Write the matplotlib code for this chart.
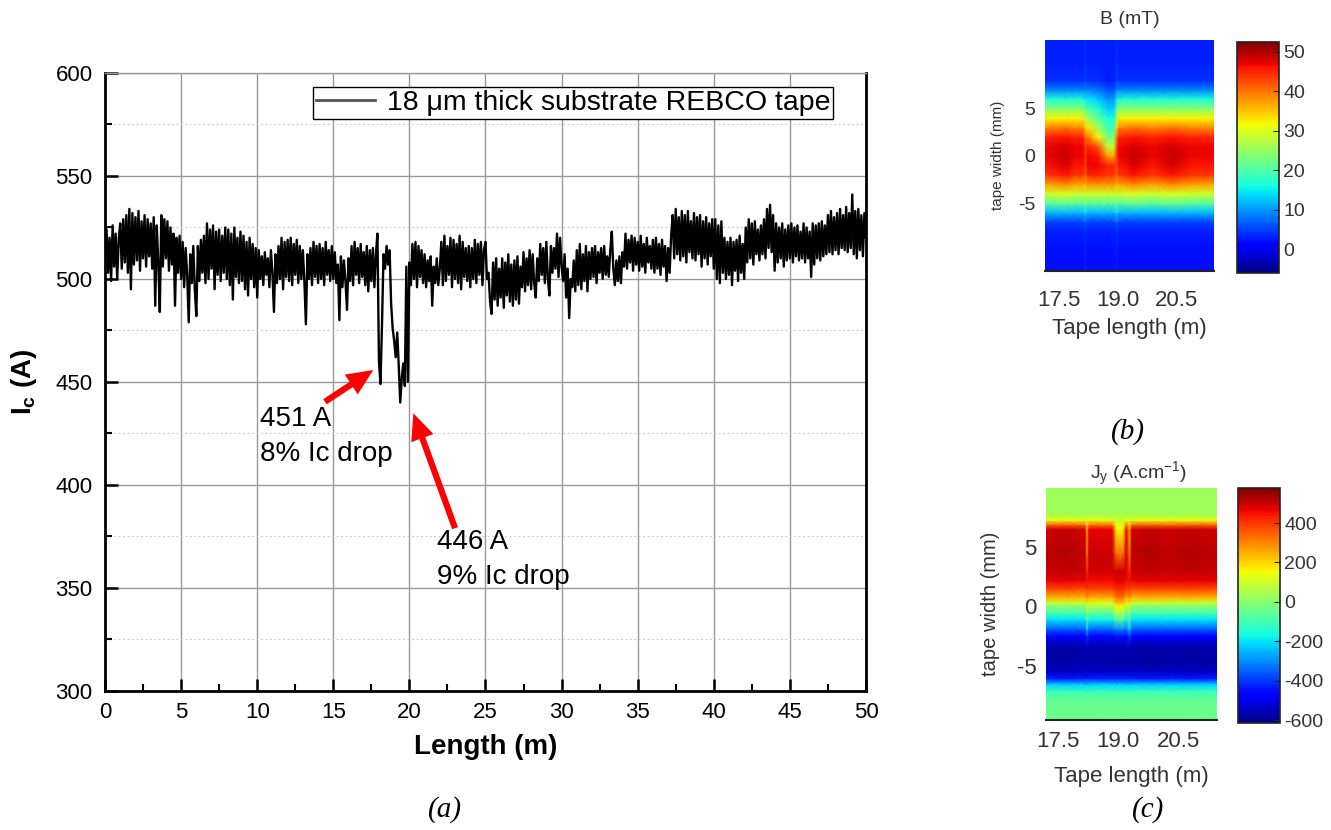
import numpy as np
import matplotlib
matplotlib.use("Agg")
import matplotlib.pyplot as plt
from matplotlib.patches import FancyArrowPatch
from matplotlib.ticker import MultipleLocator

plt.rcParams['font.family'] = ['Liberation Sans', 'DejaVu Sans']
plt.rcParams['mathtext.fontset'] = 'custom'
plt.rcParams['mathtext.rm'] = 'Liberation Sans'
plt.rcParams['mathtext.it'] = 'Liberation Sans:italic'
plt.rcParams['mathtext.bf'] = 'Liberation Sans:bold'
plt.rcParams['axes.unicode_minus'] = False

# ---------------- (a) critical current along the tape ----------------
length_step = 0.1  # m between samples
ic_values = [
    512, 524, 503, 520, 499, 526, 506, 522, 500, 519,
    527, 505, 529, 508, 531, 503, 534, 495, 532, 507,
    530, 509, 533, 504, 528, 510, 531, 506, 529, 511,
    527, 505, 530, 487, 526, 508, 484, 531, 506, 529,
    510, 528, 504, 525, 507, 522, 487, 520, 503, 521,
    500, 518, 496, 515, 502, 479, 512, 498, 516, 495,
    482, 516, 499, 519, 503, 521, 498, 527, 500, 524,
    505, 526, 495, 523, 502, 524, 499, 521, 503, 525,
    500, 524, 497, 522, 490, 525, 501, 520, 498, 523,
    499, 521, 495, 518, 492, 520, 500, 517, 496, 515,
    491, 514, 500, 511, 497, 513, 502, 510, 496, 514,
    503, 484, 512, 498, 516, 500, 520, 495, 518, 501,
    519, 499, 520, 497, 517, 502, 519, 498, 516, 500,
    514, 499, 478, 512, 500, 515, 497, 518, 501, 516,
    498, 517, 500, 515, 497, 518, 502, 514, 499, 516,
    500, 513, 498, 507, 480, 511, 496, 509, 499, 485,
    510, 499, 516, 497, 518, 502, 515, 498, 517, 501,
    513, 497, 516, 494, 514, 499, 515, 496, 512, 522,
    460, 449, 478, 512, 505, 516, 507, 514, 488, 476,
    470, 462, 474, 458, 440, 452, 459, 448, 506, 450,
    508, 497, 517, 500, 518, 496, 516, 501, 514, 498,
    512, 496, 509, 499, 511, 487, 506, 498, 510, 497,
    505, 518, 497, 521, 499, 516, 502, 520, 496, 519,
    500, 517, 498, 521, 495, 518, 501, 515, 499, 516,
    496, 515, 500, 519, 498, 517, 502, 518, 497, 514,
    518, 500, 503, 489, 483, 508, 490, 510, 487, 505,
    491, 510, 486, 508, 492, 512, 489, 507, 487, 509,
    490, 511, 488, 506, 496, 513, 494, 510, 497, 514,
    495, 512, 498, 491, 510, 499, 517, 502, 515, 498,
    518, 500, 492, 516, 503, 515, 505, 522, 501, 520,
    506, 499, 512, 491, 505, 481, 500, 496, 509, 494,
    514, 497, 517, 495, 512, 499, 516, 494, 513, 500,
    515, 501, 516, 498, 513, 503, 515, 500, 516, 502,
    511, 501, 514, 523, 505, 497, 509, 499, 511, 498,
    513, 506, 522, 505, 519, 508, 521, 504, 520, 507,
    518, 504, 521, 506, 517, 503, 520, 508, 516, 505,
    519, 503, 520, 505, 517, 502, 519, 506, 516, 499,
    515, 503, 521, 531, 510, 534, 512, 530, 509, 533,
    511, 531, 508, 533, 513, 528, 510, 532, 509, 530,
    512, 531, 506, 528, 510, 530, 507, 527, 511, 529,
    505, 529, 500, 526, 498, 528, 503, 520, 500, 518,
    502, 520, 497, 518, 504, 519, 499, 521, 503, 517,
    500, 525, 508, 529, 510, 527, 507, 528, 512, 524,
    509, 526, 512, 529, 510, 534, 515, 536, 513, 531,
    504, 527, 508, 525, 510, 527, 506, 524, 509, 526,
    510, 527, 508, 525, 511, 526, 509, 523, 510, 527,
    508, 525, 510, 523, 501, 527, 507, 526, 510, 527,
    509, 528, 511, 526, 512, 531, 513, 533, 512, 530,
    514, 532, 512, 534, 515, 531, 514, 535, 513, 532,
    515, 541, 512, 533, 510, 534, 514, 531, 511, 532,
    520,
]
length_m = np.arange(len(ic_values)) * length_step

# Annotated drops: label, arrow tail, arrow tip, text anchor
drop_labels = ["451 A\n8% Ic drop", "446 A\n9% Ic drop"]
drop_tails = [(14.45, 440.4), (23.0, 379.0)]
drop_tips = [(17.63, 455.8), (20.26, 434.8)]
drop_text_pos = [(10.18, 438.5), (21.79, 378.5)]

# ---------------- (b) magnetic field map ----------------
b_width = [-12.2, -10, -8, -7, -6, -5, -4, -3, -2, -1, 0, 1, 2, 3, 4, 5, 6, 7, 8, 10, 12.3]
b_profiles = {
    'n': [2, 2, 3, 5, 12, 21, 29, 37, 44, 46, 47, 47, 45, 39, 32, 24, 17, 9, 4, 3, 3],
    'h': [2, 2, 3, 5, 12, 22, 30, 39, 46, 48, 49, 48, 46, 40, 32, 24, 17, 9, 4, 3, 3],
    's': [3, 3, 4, 7, 14, 22, 29, 36, 41, 43, 44, 43, 40, 34, 27, 21, 15, 9, 5, 4, 4],
    'a': [2, 2, 3, 5, 12, 21, 29, 38, 45, 47, 47, 45, 40, 33, 26, 20, 15, 9, 4, 3, 3],
    'b': [2, 2, 3, 5, 12, 21, 29, 38, 45, 47, 46, 42, 32, 26, 21, 17, 13, 8, 4, 3, 3],
    'v': [2, 2, 3, 5, 12, 21, 29, 38, 44, 45, 37, 28, 23, 19, 16, 13, 10, 6, 3, 3, 3],
}
b_length = [17.15, 17.7, 17.9, 18.12, 18.18, 18.24, 18.5, 18.75, 18.9, 18.98, 19.03,
            19.08, 19.4, 19.9, 20.4, 20.9, 21.45]
b_columns = ['n', 'h', 'n', 'n', 's', 'a', 'b', 'v', 'v', 's', 'n',
             'n', 'h', 'n', 'h', 'n', 'n']
b_ticks = [0, 10, 20, 30, 40, 50]

# ---------------- (c) sheet current density map ----------------
j_width = [-9.6, -8, -7.2, -6.6, -6.1, -5.5, -4.5, -3.4, -2.5, -1.9, -1.1, -0.5, 0,
           0.3, 0.8, 1.5, 2.2, 3, 4.5, 6.5, 6.9, 7.3, 7.8, 8.5, 10]
j_profiles = {
    'n': [-40, -50, -110, -220, -430, -540, -570, -560, -460, -350, -200, -80, -10,
          90, 250, 380, 470, 500, 510, 490, 340, 130, 40, 30, 30],
    'h': [-40, -50, -110, -225, -440, -550, -580, -570, -465, -352, -200, -80, -10,
          90, 255, 390, 480, 510, 525, 505, 345, 130, 40, 30, 30],
    's': [-40, -50, -110, -220, -430, -540, -570, -540, -400, -220, -80, 20, 100,
          180, 300, 400, 450, 420, 320, 260, 200, 110, 40, 30, 30],
    'a': [-40, -50, -110, -220, -430, -540, -570, -560, -460, -340, -180, -50, 40,
          120, 260, 390, 460, 490, 500, 470, 330, 130, 40, 30, 30],
    'y': [-40, -50, -110, -220, -430, -540, -570, -560, -450, -300, -70, 60, 150,
          230, 330, 420, 480, 490, 330, 160, 130, 100, 40, 30, 30],
}
j_length = [17.19, 17.7, 18.0, 18.17, 18.22, 18.27, 18.85, 18.95, 19.12, 19.2,
            19.28, 19.34, 19.8, 20.3, 20.8, 21.475]
j_columns = ['n', 'h', 'n', 'n', 's', 'a', 'a', 'y', 'y', 'a',
             's', 'n', 'h', 'n', 'h', 'n']
j_ticks = [-600, -400, -200, 0, 200, 400]

map_xticks = [17.5, 19.0, 20.5]
map_yticks = [-5, 0, 5]

# ---------------- figure ----------------
fig = plt.figure(figsize=(13.31, 8.30), dpi=100)

ax = fig.add_axes([0.0789, 0.1675, 0.5717, 0.7446])
ax.plot(length_m, ic_values, color='black', lw=1.7,
        label='18 \u03bcm thick substrate REBCO tape')
ax.set_xlim(0, 50)
ax.set_ylim(300, 600)
ax.xaxis.set_major_locator(MultipleLocator(5))
ax.xaxis.set_minor_locator(MultipleLocator(2.5))
ax.yaxis.set_major_locator(MultipleLocator(50))
ax.yaxis.set_minor_locator(MultipleLocator(25))
ax.set_axisbelow(True)
ax.grid(which='major', color='#9a9a9a', lw=1.0)
ax.yaxis.grid(which='minor', color='#c8c8c8', lw=0.8, ls=(0, (1.5, 2.5)))
ax.tick_params(which='major', direction='in', length=9, width=1.8, labelsize=16)
ax.tick_params(axis='x', which='major', pad=8)
ax.tick_params(axis='y', which='major', pad=9)
ax.tick_params(which='minor', direction='in', length=5, width=1.5)
for side in ('left', 'bottom', 'right'):
    ax.spines[side].set_linewidth(2)
    ax.spines[side].set_color('black')
ax.spines['top'].set_color('#9a9a9a')
ax.spines['top'].set_linewidth(1)
ax.set_xlabel('Length (m)', fontsize=20, fontweight='bold', labelpad=8)
ax.set_ylabel(r'$\mathbf{I_c}$ (A)', fontsize=20, fontweight='bold')
ax.yaxis.set_label_coords(-0.087, 0.5)

leg = ax.legend(loc='upper right', bbox_to_anchor=(0.957, 0.977), borderaxespad=0,
                fontsize=20.5, frameon=True, fancybox=False, framealpha=1,
                edgecolor='black', handlelength=2.1, handletextpad=0.4,
                borderpad=0.1)
leg.get_frame().set_linewidth(1.0)
leg.get_lines()[0].set_color('#555555')
leg.get_lines()[0].set_linewidth(2)

for label, tail, tip, pos in zip(drop_labels, drop_tails, drop_tips, drop_text_pos):
    arrow = FancyArrowPatch(tail, tip, transform=ax.transData,
                            arrowstyle='simple,head_length=1.9,head_width=1.7,tail_width=0.45',
                            mutation_scale=10, color='#ff0000', lw=0,
                            shrinkA=0, shrinkB=0, zorder=5)
    ax.add_patch(arrow)
    ax.text(pos[0], pos[1], label, fontsize=20, ha='left', va='top',
            linespacing=1.45, zorder=6)

fig.text(445 / 1331, 1 - 810 / 830, '(a)', fontsize=21, style='italic',
         family='Liberation Serif', ha='center', va='center')

map_text = '#333333'


def draw_map(rect, cbar_rect, lengths, widths, columns, profiles, vmin, vmax,
             cticks, ylim, xlim, ylabel_size, ytick_size, xpad, xlabelpad, ylabel_x):
    mx = fig.add_axes(rect)
    z = np.array([profiles[k] for k in columns]).T
    mesh = mx.pcolormesh(lengths, widths, z, shading='gouraud', cmap='jet',
                         vmin=vmin, vmax=vmax, rasterized=True)
    mx.set_xlim(*xlim)
    mx.set_ylim(*ylim)
    mx.set_xticks(map_xticks)
    mx.set_xticklabels(['%.1f' % v for v in map_xticks])
    mx.set_yticks(map_yticks)
    mx.set_yticklabels(['%d' % v for v in map_yticks])
    mx.tick_params(axis='x', length=0, pad=xpad, labelsize=16, labelcolor=map_text)
    mx.tick_params(axis='y', length=0, pad=7, labelsize=ytick_size, labelcolor=map_text)
    for side in ('top', 'left', 'right'):
        mx.spines[side].set_visible(False)
    mx.spines['bottom'].set_color('#222222')
    mx.spines['bottom'].set_linewidth(1.5)
    mx.set_xlabel('Tape length (m)', fontsize=16, color=map_text, labelpad=xlabelpad)
    mx.set_ylabel('tape width (mm)', fontsize=ylabel_size, color=map_text)
    mx.yaxis.set_label_coords(ylabel_x, 0.5)
    cax = fig.add_axes(cbar_rect)
    cb = fig.colorbar(mesh, cax=cax, ticks=cticks)
    cb.outline.set_linewidth(1.2)
    cb.outline.set_edgecolor('#222222')
    cax.tick_params(direction='in', length=4, width=0.8, pad=3, labelsize=14,
                    labelcolor=map_text, color='#222222')
    cb.solids.set_rasterized(True)
    return mx


ax_b = draw_map([0.7851, 0.6735, 0.127, 0.2783], [0.9294, 0.6711, 0.0316, 0.2783],
                b_length, b_width, b_columns, b_profiles, -6, 52.5, b_ticks,
                (-12.2, 12.3), (17.15, 21.45), 11, 14, 14, 5, -0.237)
fig.text(1130 / 1331, 1 - 20 / 830, 'B (mT)', fontsize=14, color=map_text,
         ha='center', va='center')
fig.text(1128 / 1331, 1 - 432 / 830, '(b)', fontsize=21, style='italic',
         family='Liberation Serif', ha='center', va='center')

ax_c = draw_map([0.7859, 0.1325, 0.1285, 0.2795], [0.9301, 0.1289, 0.0316, 0.2831],
                j_length, j_width, j_columns, j_profiles, -615, 578, j_ticks,
                (-9.6, 10), (17.19, 21.475), 14.5, 16, 8, 10, -0.27)
fig.text(1139 / 1331, 1 - 474 / 830, r'J$_\mathrm{y}$ (A.cm$^{-1}$)', fontsize=14,
         color=map_text, ha='center', va='center')
fig.text(1148 / 1331, 1 - 810 / 830, '(c)', fontsize=21, style='italic',
         family='Liberation Serif', ha='center', va='center')

fig.savefig('out.png', dpi=100)
